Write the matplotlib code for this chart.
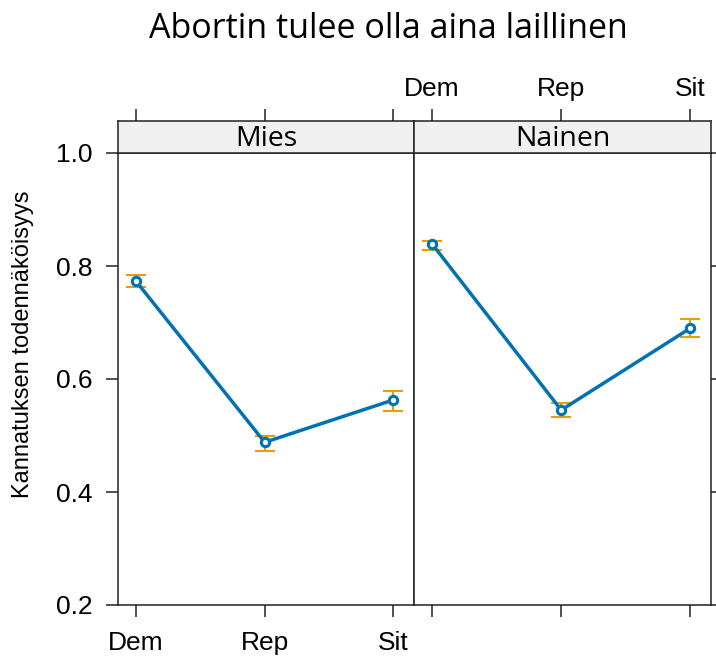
import matplotlib
matplotlib.use('Agg')
import matplotlib.pyplot as plt

# data
categories = ['Dem', 'Rep', 'Sit']
panels = ['Mies', 'Nainen']
fit_mies = [0.773, 0.488, 0.563]
lower_mies = [0.763, 0.473, 0.543]
upper_mies = [0.784, 0.499, 0.578]
fit_nainen = [0.839, 0.545, 0.690]
lower_nainen = [0.828, 0.533, 0.674]
upper_nainen = [0.844, 0.558, 0.706]
yticks = [0.2, 0.4, 0.6, 0.8, 1.0]

W, H = 716, 657
plt.rcParams['font.family'] = ['Liberation Sans', 'DejaVu Sans']
HEAD_FONT = ['Open Sans', 'DejaVu Sans']

LINE = '#0072B2'
BAR = '#E69F00'


def fx(px):
	return px / W


def fy(py):
	return 1 - py / H


fig = plt.figure(figsize=(W / 100, H / 100), dpi=100)

panel_x = [(118, 414), (414, 711)]
data = [(fit_mies, lower_mies, upper_mies), (fit_nainen, lower_nainen, upper_nainen)]
xpos = list(range(1, len(categories) + 1))

for i, (name, (x0, x1), (fit, lo, hi)) in enumerate(zip(panels, panel_x, data)):
	ax = fig.add_axes([fx(x0), fy(605), fx(x1 - x0), fy(153) - fy(605)])
	ax.set_xlim(0.86, 3.16)
	ax.set_ylim(0.2, 1.0)

	yerr = [[f - l for f, l in zip(fit, lo)], [h - f for f, h in zip(fit, hi)]]
	ax.errorbar(xpos, fit, yerr=yerr, fmt='none', ecolor=BAR, elinewidth=1.5,
		capsize=7, capthick=1.5, zorder=2)
	ax.plot(xpos, fit, color=LINE, lw=2.5, marker='o', ms=6, mfc='white',
		mec=LINE, mew=2.2, zorder=3)

	for s in ax.spines.values():
		s.set_linewidth(1.1)
		s.set_color('#222222')

	ax.set_xticks(xpos)
	ax.set_yticks(yticks)
	ax.tick_params(direction='out', length=8.5, width=1.1, color='#222222',
		labelsize=19, pad=10)
	if i == 0:
		ax.set_xticklabels(categories)
		ax.set_yticklabels(['%.1f' % v for v in yticks])
		ax.tick_params(axis='y', left=True, right=False, labelleft=True)
	else:
		ax.set_xticklabels([])
		ax.tick_params(axis='y', left=False, right=True, labelleft=False, labelright=False)

	# strip with the panel name, ticks above it
	st = fig.add_axes([fx(x0), fy(153), fx(x1 - x0), fy(121) - fy(153)])
	st.set_facecolor('#f0f0f0')
	st.set_xlim(0.86, 3.16)
	st.set_ylim(0, 1)
	st.set_yticks([])
	st.set_xticks(xpos)
	st.xaxis.set_ticks_position('top')
	st.tick_params(axis='x', direction='out', length=8.5, width=1.1, color='#222222',
		labelsize=19, pad=6, bottom=False, labelbottom=False)
	if i == 1:
		st.set_xticklabels(categories)
	else:
		st.set_xticklabels([])
	for s in st.spines.values():
		s.set_linewidth(1.1)
		s.set_color('#222222')
	st.text(0.5, 0.45, name, transform=st.transAxes, ha='center', va='center',
		fontsize=20.5, family=HEAD_FONT)

fig.text(fx(388), fy(29), 'Abortin tulee olla aina laillinen', ha='center',
	va='center', fontsize=24.5, family=HEAD_FONT)
fig.text(fx(23), fy(344), 'Kannatuksen todennäköisyys', ha='center', va='center',
	rotation=90, fontsize=17)

fig.savefig('out.png', dpi=100)
